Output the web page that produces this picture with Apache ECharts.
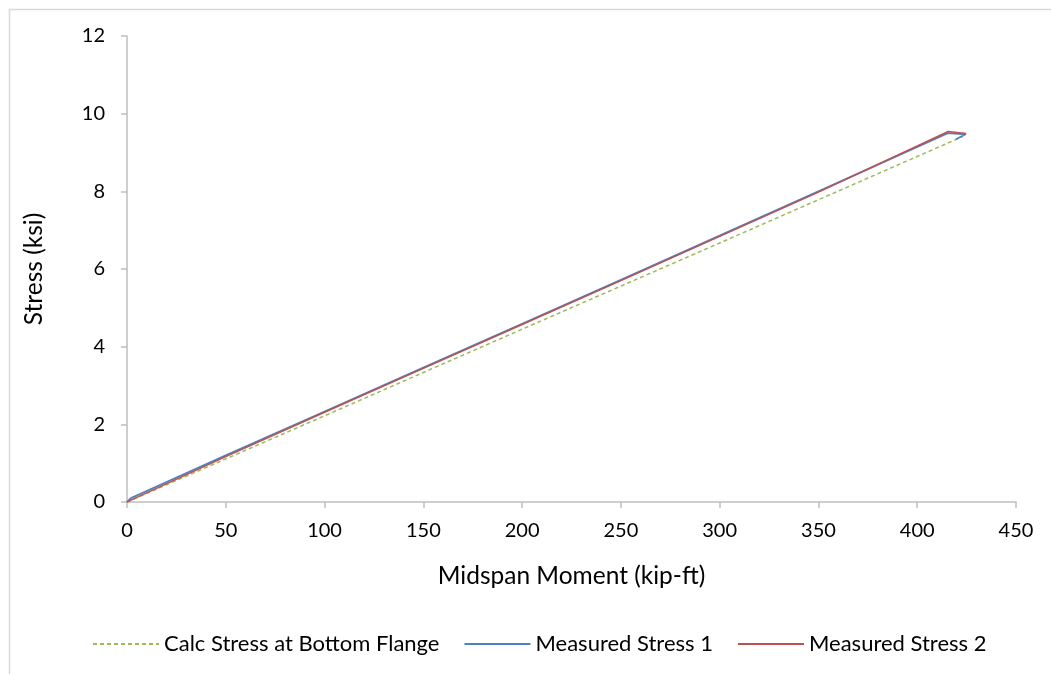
<!DOCTYPE html>
<html>
<head>
<meta charset="utf-8">
<script src="https://cdn.jsdelivr.net/npm/echarts@6/dist/echarts.min.js"></script>
<style>
html,body{margin:0;padding:0;background:#fff;}
#chart{width:1051px;height:674px;}
</style>
</head>
<body>
<div id="chart"></div>
<script>
// Data
const seriesNames = ['Calc Stress at Bottom Flange', 'Measured Stress 1', 'Measured Stress 2'];
const xTicks = [0, 50, 100, 150, 200, 250, 300, 350, 400, 450];
const yTicks = [0, 2, 4, 6, 8, 10, 12];
const calcStress = [[0, 0], [100, 2.22], [200, 4.45], [300, 6.67], [423, 9.41]];
const measured1 = [[0, 0], [2, 0.1], [50, 1.2], [100, 2.33], [150, 3.46], [200, 4.59], [250, 5.72], [300, 6.86], [350, 8.0], [415.5, 9.5], [424.5, 9.47], [419.6, 9.34]];
const measured2 = [[0, 0], [2, 0.05], [50, 1.17], [100, 2.31], [150, 3.44], [200, 4.57], [250, 5.7], [300, 6.84], [350, 7.98], [415.7, 9.54], [424.7, 9.49], [423.5, 9.45]];

const FONT = 'Lato';
const chart = echarts.init(document.getElementById('chart'), null, {renderer: 'canvas'});
const axisColor = '#bfbfbf';
chart.setOption({
  backgroundColor: '#fff',
  animation: false,
  textStyle: {fontFamily: FONT},
  graphic: [{
    type: 'rect', left: 7, top: 7, silent: true,
    shape: {width: 1100, height: 700},
    style: {fill: 'none', stroke: '#d9d9d9', lineWidth: 1.5}
  }],
  grid: {left: 127, right: 35, top: 36, bottom: 172, containLabel: false},
  legend: {
    left: 87, top: 628,
    itemWidth: 66, itemHeight: 10, itemGap: 24,
    data: seriesNames,
    itemStyle: {opacity: 0},
    textStyle: {fontFamily: FONT, fontSize: 22, color: '#000', padding: [0, 0, 0, 0]}
  },
  xAxis: {
    type: 'value', min: 0, max: 450, interval: 50,
    name: 'Midspan Moment (kip-ft)', nameLocation: 'middle', nameGap: 62,
    nameTextStyle: {fontFamily: FONT, fontSize: 24.5, color: '#000'},
    axisLine: {show: true, lineStyle: {color: axisColor, width: 1.5}},
    axisTick: {show: true, length: 6, lineStyle: {color: axisColor, width: 1.5}},
    axisLabel: {fontFamily: FONT, fontSize: 20, color: '#000', margin: 19,
      formatter: v => xTicks.includes(v) ? String(v) : ''},
    splitLine: {show: false}
  },
  yAxis: {
    type: 'value', min: 0, max: 12, interval: 2,
    name: 'Stress (ksi)', nameLocation: 'middle', nameGap: 80, nameRotate: 90,
    nameTextStyle: {fontFamily: FONT, fontSize: 24.5, color: '#000'},
    axisLine: {show: true, lineStyle: {color: axisColor, width: 1.5}},
    axisTick: {show: true, length: 6, lineStyle: {color: axisColor, width: 1.5}},
    axisLabel: {fontFamily: FONT, fontSize: 20, color: '#000', margin: 22,
      formatter: v => yTicks.includes(v) ? String(v) : ''},
    splitLine: {show: false}
  },
  series: [
    {name: seriesNames[0], type: 'line', data: calcStress, showSymbol: false, symbol: 'none',
      lineStyle: {color: '#9bbb59', width: 1.5, type: [4, 3]}, itemStyle: {color: '#9bbb59'}},
    {name: seriesNames[1], type: 'line', data: measured1, showSymbol: false, symbol: 'none',
      lineStyle: {color: '#4f81bd', width: 1.8}, itemStyle: {color: '#4f81bd'}},
    {name: seriesNames[2], type: 'line', data: measured2, showSymbol: false, symbol: 'none',
      lineStyle: {color: '#c0504d', width: 1.5}, itemStyle: {color: '#c0504d'}}
  ]
});
</script>
</body>
</html>
